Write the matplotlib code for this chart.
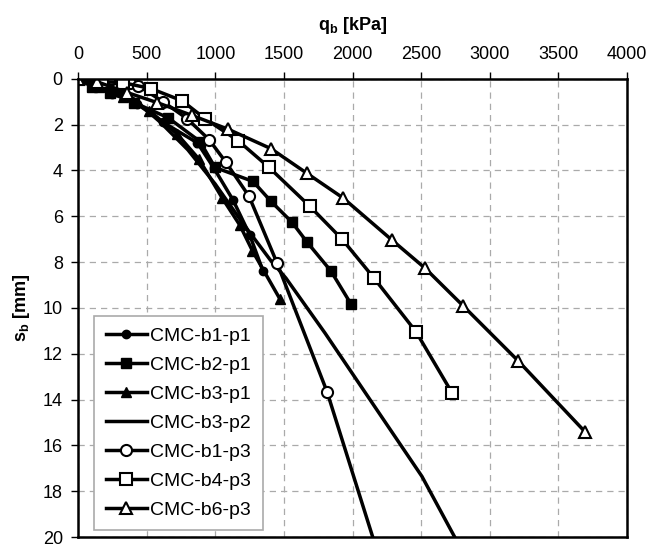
import matplotlib
matplotlib.use("Agg")
import matplotlib.pyplot as plt

plt.rcParams["font.family"] = ["Liberation Sans", "DejaVu Sans"]
plt.rcParams["mathtext.fontset"] = "custom"
plt.rcParams["mathtext.rm"] = "Liberation Sans"
plt.rcParams["mathtext.bf"] = "Liberation Sans:bold"

# q_b [kPa] / s_b [mm]
b1p1_q = [0, 100, 250, 430, 620, 870, 990, 1130, 1250, 1348]
b1p1_s = [0, 0.3, 0.65, 1.1, 1.9, 2.8, 3.9, 5.3, 6.8, 8.4]

b2p1_q = [0, 102, 233, 408, 656, 889, 998, 1275, 1406, 1559, 1669, 1843, 1989]
b2p1_s = [0, 0.35, 0.6, 1.04, 1.7, 2.74, 3.87, 4.48, 5.35, 6.26, 7.13, 8.39, 9.83]

b3p1_q = [0, 150, 330, 520, 720, 880, 1050, 1180, 1270, 1470]
b3p1_s = [0, 0.35, 0.8, 1.4, 2.4, 3.5, 5.2, 6.4, 7.5, 9.6]

b3p2_q = [0, 200, 400, 600, 800, 1000, 1200, 1400, 1515, 1800, 2150, 2506, 2745]
b3p2_s = [0, 0.35, 0.85, 1.9, 3.1, 4.6, 6.3, 7.9, 8.7, 11.1, 14.2, 17.35, 20.0]

b1p3_q = [0, 182, 248, 306, 379, 437, 619, 794, 954, 1078, 1246, 1450, 1814, 2200]
b1p3_s = [0, 0, 0, 0, 0.17, 0.3, 1.0, 1.74, 2.65, 3.65, 5.13, 8.04, 13.65, 21.0]

b4p3_q = [0, 175, 328, 532, 758, 925, 1166, 1392, 1690, 1924, 2157, 2463, 2725]
b4p3_s = [0, 0.13, 0.17, 0.43, 0.96, 1.74, 2.7, 3.87, 5.57, 7.0, 8.7, 11.04, 13.7]

b6p3_q = [0, 138, 357, 576, 831, 1093, 1406, 1669, 1931, 2288, 2528, 2805, 3206, 3694]
b6p3_s = [0, 0.13, 0.6, 1.04, 1.6, 2.2, 3.05, 4.13, 5.2, 7.04, 8.26, 9.9, 12.3, 15.4]

fig = plt.figure(figsize=(6.62, 5.47), dpi=100)
ax = fig.add_axes([0.118, 0.018, 0.829, 0.838])

lw = 2.5
ax.plot(b1p1_q, b1p1_s, color="black", lw=lw, marker="o", ms=6, label="CMC-b1-p1")
ax.plot(b2p1_q, b2p1_s, color="black", lw=lw, marker="s", ms=7, label="CMC-b2-p1")
ax.plot(b3p1_q, b3p1_s, color="black", lw=lw, marker="^", ms=7, label="CMC-b3-p1")
ax.plot(b3p2_q, b3p2_s, color="black", lw=lw, label="CMC-b3-p2")
ax.plot(b1p3_q, b1p3_s, color="black", lw=lw, marker="o", ms=8, mfc="white", mew=1.5, label="CMC-b1-p3")
ax.plot(b4p3_q, b4p3_s, color="black", lw=lw, marker="s", ms=9, mfc="white", mew=1.5, label="CMC-b4-p3")
ax.plot(b6p3_q, b6p3_s, color="black", lw=lw, marker="^", ms=9, mfc="white", mew=1.5, label="CMC-b6-p3")

ax.set_xlim(0, 4000)
ax.set_ylim(20, 0)
ax.set_xticks(range(0, 4001, 500))
ax.set_yticks(range(0, 21, 2))
ax.xaxis.tick_top()
ax.xaxis.set_label_position("top")
ax.tick_params(axis="both", direction="out", length=5, width=1, labelsize=13, pad=6)
ax.grid(True, color="#aaaaaa", linestyle=(0, (5, 4)), linewidth=0.9)
for sp in ax.spines.values():
    sp.set_linewidth(1.8)

ax.set_xlabel("q$_\\mathbf{b}$ [kPa]", fontsize=13, fontweight="bold", labelpad=12)
ax.set_ylabel("s$_\\mathbf{b}$ [mm]", fontsize=13, fontweight="bold", labelpad=8)

leg = ax.legend(loc="lower left", bbox_to_anchor=(0.029, 0.015), borderaxespad=0,
                fontsize=14, fancybox=False, edgecolor="#aaaaaa", framealpha=1,
                handlelength=2.1, handletextpad=0.2, labelspacing=0.58, borderpad=0.6)
leg.get_frame().set_linewidth(1.2)

fig.savefig("out.png", dpi=100)
